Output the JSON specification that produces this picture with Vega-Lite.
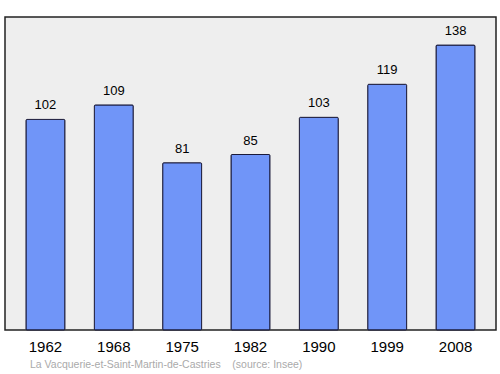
{
  "$schema": "https://vega.github.io/schema/vega-lite/v6.json",
  "width": 491,
  "height": 313,
  "autosize": {"type": "none"},
  "padding": {"left": 5, "top": 17, "right": 4, "bottom": 44},
  "background": "white",
  "view": {"fill": "#eeeeee", "stroke": "#222222", "strokeWidth": 1.5, "cornerRadius": 0},
  "title": {
    "text": "La Vacquerie-et-Saint-Martin-de-Castries\u00a0\u00a0\u00a0\u00a0(source: Insee)",
    "orient": "bottom",
    "anchor": "start",
    "offset": 6,
    "dx": 25,
    "font": "Liberation Sans",
    "fontSize": 10.5,
    "fontWeight": "normal",
    "color": "#aaaaaa"
  },
  "data": {
    "values": [
      {"year": "1962", "pop": 102},
      {"year": "1968", "pop": 109},
      {"year": "1975", "pop": 81},
      {"year": "1982", "pop": 85},
      {"year": "1990", "pop": 103},
      {"year": "1999", "pop": 119},
      {"year": "2008", "pop": 138}
    ]
  },
  "encoding": {
    "x": {
      "field": "year",
      "type": "nominal",
      "sort": null,
      "scale": {"paddingInner": 0.43, "paddingOuter": 0.307},
      "axis": {
        "title": null,
        "domain": false,
        "ticks": false,
        "labelAngle": 0,
        "labelPadding": 9,
        "labelFont": "Liberation Sans",
        "labelFontSize": 15,
        "labelColor": "#000000"
      }
    },
    "y": {
      "field": "pop",
      "type": "quantitative",
      "scale": {"domain": [0, 151.6], "nice": false},
      "axis": null
    }
  },
  "layer": [
    {
      "mark": {"type": "bar", "fill": "#7095f8", "stroke": "#1a1a3a", "strokeWidth": 1, "cornerRadius": 1}
    },
    {
      "mark": {"type": "text", "baseline": "bottom", "dy": -7, "font": "Liberation Sans", "fontSize": 13, "color": "#000000"},
      "encoding": {"text": {"field": "pop", "type": "quantitative"}}
    }
  ]
}
